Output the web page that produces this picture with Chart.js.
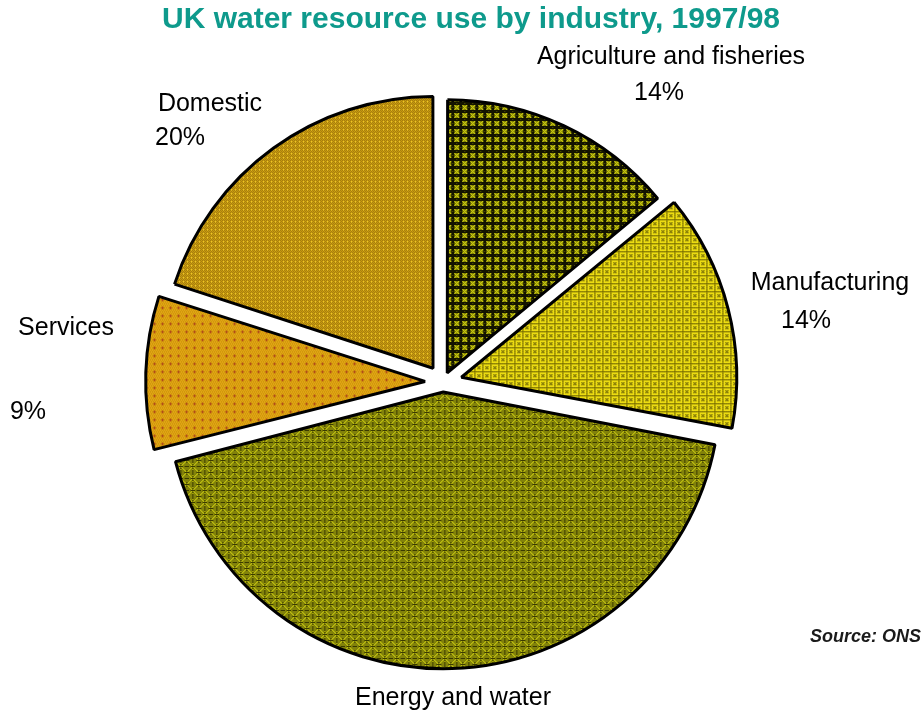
<!DOCTYPE html>
<html lang="en">
<head>
  <meta charset="UTF-8">
  <title>UK water resource use by industry, 1997/98</title>
  <script src="https://cdn.jsdelivr.net/npm/chart.js"></script>
  <style>
    body {
      margin: 0;
      background: #ffffff;
      font-family: "Liberation Sans", Arial, sans-serif;
    }
    #wrap {
      position: relative;
      width: 923px;
      height: 713px;
    }
  </style>
</head>
<body>
  <div id="wrap"><canvas id="waterChart"></canvas></div>

  <script>
    // data
    const categories = ['Agriculture and fisheries', 'Manufacturing', 'Energy and water', 'Services', 'Domestic'];
    const shares = [14, 14, 43, 9, 20];
    const explodePx = [10, 19, 10, 18, 17];   // how far each slice is pulled out

    // label placement (two lines: name, percentage)
    const nameAt = [[671, 57], [830, 283], [453, 698], [66, 328], [210, 104]];
    const pctAt = [[659, 93], [806, 321], null, [28, 412], [180, 138]];

    // little hatch tiles, roughly like the Excel fills
    function tile(size, draw) {
      const c = document.createElement('canvas');
      c.width = size; c.height = size;
      const g = c.getContext('2d');
      draw(g);
      return g.createPattern(c, 'repeat');
    }
    function px(g, color, pts) {
      g.fillStyle = color;
      pts.forEach(p => g.fillRect(p[0], p[1], 1, 1));
    }

    const fills = [
      // agriculture: black grid, yellow crosses
      tile(8, g => {
        g.fillStyle = '#141400'; g.fillRect(0, 0, 8, 8);
        g.fillStyle = '#808000'; g.fillRect(2, 2, 5, 5);
        px(g, '#e6e61a', [[2, 2], [6, 2], [3, 3], [5, 3], [4, 4], [3, 5], [5, 5], [2, 6], [6, 6]]);
        px(g, '#5a5a00', [[0, 4], [4, 0]]);
      }),
      // manufacturing: bright yellow with dark dotted grid
      tile(8, g => {
        g.fillStyle = '#ecdc12'; g.fillRect(0, 0, 8, 8);
        px(g, '#4a4200', [[0, 0], [2, 0], [4, 0], [6, 0], [0, 2], [0, 4], [0, 6]]);
        px(g, '#8a7e00', [[1, 0], [3, 0], [5, 0], [7, 0], [0, 1], [0, 3], [0, 5], [0, 7]]);
        px(g, '#2e2a00', [[4, 4], [3, 3], [5, 5], [3, 5], [5, 3]]);
      }),
      // energy: olive with yellow lattice and dark cross lines
      tile(12, g => {
        g.fillStyle = '#82820a'; g.fillRect(0, 0, 12, 12);
        g.fillStyle = '#3a3a00';
        g.fillRect(0, 0, 12, 1); g.fillRect(0, 0, 1, 12);
        g.fillRect(6, 4, 1, 5); g.fillRect(4, 6, 5, 1);
        const yel = [];
        for (let i = 1; i < 12; i++) { if (i !== 6) { yel.push([i, i]); yel.push([i, 12 - i]); } }
        px(g, '#dede14', yel);
        px(g, '#b8b800', [[3, 0], [9, 0], [0, 3], [0, 9]]);
      }),
      // services: orange with red-brown plus marks
      tile(8, g => {
        g.fillStyle = '#e2a614'; g.fillRect(0, 0, 8, 8);
        for (let y = 0; y < 8; y += 2) for (let x = (y / 2) % 2; x < 8; x += 2) px(g, '#c08a08', [[x, y]]);
        px(g, '#b04c18', [[4, 3], [3, 4], [4, 4], [5, 4], [4, 5]]);
      }),
      // domestic: fine gold checker
      tile(4, g => {
        g.fillStyle = '#dcaa14'; g.fillRect(0, 0, 4, 4);
        px(g, '#94700a', [[0, 0], [2, 0], [1, 1], [3, 1], [0, 2], [2, 2], [1, 3], [3, 3]]);
        px(g, '#f4d430', [[1, 3]]);
      })
    ];

    const textPlugin = {
      id: 'pieText',
      afterDraw(chart) {
        const c = chart.ctx;
        c.save();
        c.textAlign = 'center';
        c.textBaseline = 'middle';

        c.fillStyle = '#0e9a8c';
        c.font = 'bold 30px "Liberation Sans", Arial, sans-serif';
        c.fillText('UK water resource use by industry, 1997/98', 471, 20);

        c.fillStyle = '#000000';
        c.font = '25px "Liberation Sans", Arial, sans-serif';
        categories.forEach((name, i) => {
          c.fillText(name, nameAt[i][0], nameAt[i][1]);
          if (pctAt[i]) c.fillText(shares[i] + '%', pctAt[i][0], pctAt[i][1]);
        });

        c.textAlign = 'right';
        c.fillStyle = '#1a1a1a';
        c.font = 'italic bold 18px "Liberation Sans", Arial, sans-serif';
        c.fillText('Source: ONS', 921, 637);
        c.restore();
      }
    };

    new Chart(document.getElementById('waterChart'), {
      type: 'pie',
      data: {
        labels: categories,
        datasets: [{
          data: shares,
          backgroundColor: fills,
          borderColor: '#000000',
          borderWidth: 3,
          offset: explodePx.map(v => v * 4),
          radius: 271
        }]
      },
      options: {
        responsive: true,
        maintainAspectRatio: false,
        animation: false,
        events: [],
        layout: { padding: { left: 0, right: 37, top: 60, bottom: 9 } },
        plugins: {
          legend: { display: false },
          tooltip: { enabled: false }
        }
      },
      plugins: [textPlugin]
    });
  </script>
</body>
</html>
